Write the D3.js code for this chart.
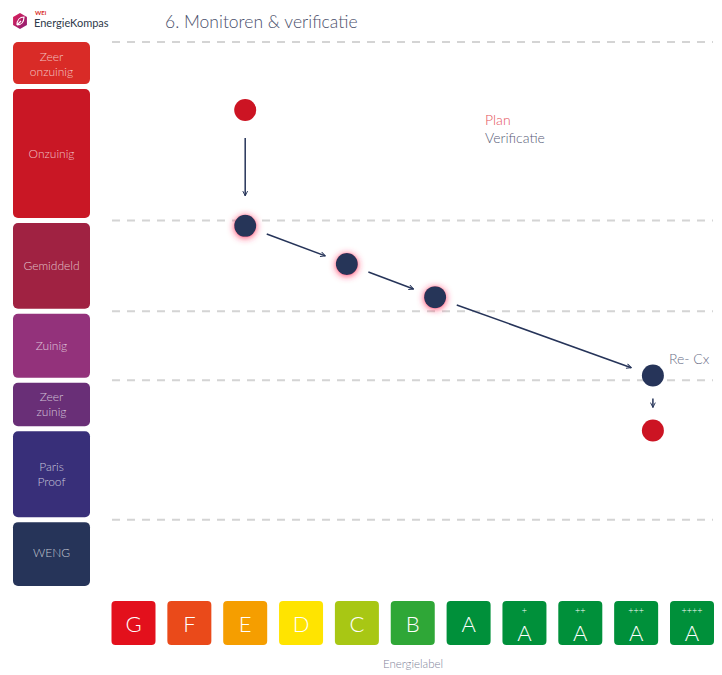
<!DOCTYPE html>
<html lang="nl">
<head>
    <meta charset="UTF-8">
    <title>6. Monitoren & verificatie</title>
    <script src="https://d3js.org/d3.v7.min.js"></script>
    <style>
        body { margin: 0; background: #fff; }
        text { font-family: Lato, "Open Sans", sans-serif; }
        .grid { stroke: #d4d4d4; stroke-width: 2px; stroke-dasharray: 8 7; }
        .band text { fill: rgba(255,255,255,0.72); font-size: 12px; font-weight: 300; }
        .label text { fill: #fff; font-weight: 300; }
        .arrow { stroke: #263459; stroke-width: 1.5px; fill: none; }
    </style>
</head>
<body>
    <script>
        // energy labels along the x axis (index 0..10)
        var labels = ["G", "F", "E", "D", "C", "B", "A", "A+", "A++", "A+++", "A++++"];
        var labelColors = ["#e3101c", "#ea4a1a", "#f59e00", "#ffe400", "#a8c714", "#2fa737",
                           "#00903a", "#00903a", "#00903a", "#00903a", "#00903a"];

        // performance bands on the y axis (energy index, 0 = best, 100 = worst)
        var bandNames = ["Zeer\nonzuinig", "Onzuinig", "Gemiddeld", "Zuinig", "Zeer\nzuinig", "Paris\nProof", "WENG"];
        var bandTop = [100, 91.8, 67.2, 50.5, 37.8, 28.9, 12.2];
        var bandBottom = [91.8, 67.2, 50.5, 37.8, 28.9, 12.2, 0];
        var bandColors = ["#d92b27", "#c91725", "#a02242", "#93327b", "#692f77", "#382f79", "#263459"];

        // dashed reference lines
        var gridValues = [100, 67.2, 50.5, 37.8, 12.2];

        // path of the building: label index, energy index, type
        var pointX = [2, 2, 3.82, 5.4, 9.3, 9.3];
        var pointY = [87.5, 66.2, 59.2, 53.1, 38.7, 28.6];
        var pointType = ["plan", "verificatie", "verificatie", "verificatie", "recx", "plan"];
        // arrows between consecutive points
        var arrowFrom = [0, 1, 2, 3, 4];
        var arrowTo = [1, 2, 3, 4, 5];

        var width = 722, height = 675;

        var svg = d3.select("body").append("svg")
            .attr("width", width)
            .attr("height", height);

        var defs = svg.append("defs");

        defs.append("filter")
            .attr("id", "glow")
            .attr("x", "-100%").attr("y", "-100%")
            .attr("width", "300%").attr("height", "300%")
            .append("feDropShadow")
            .attr("dx", 0).attr("dy", 1)
            .attr("stdDeviation", 3.5)
            .attr("flood-color", "#ff2a55")
            .attr("flood-opacity", 0.9);

        defs.append("marker")
            .attr("id", "head")
            .attr("viewBox", "0 0 10 10")
            .attr("refX", 9).attr("refY", 5)
            .attr("markerWidth", 6).attr("markerHeight", 6)
            .attr("markerUnits", "userSpaceOnUse")
            .attr("orient", "auto")
            .append("path")
            .attr("d", "M1,1L9,5L1,9")
            .attr("fill", "none")
            .attr("stroke", "#263459")
            .attr("stroke-width", 1.6);

        var lg = defs.append("linearGradient").attr("id", "logoGrad")
            .attr("x1", 0).attr("y1", 0).attr("x2", 1).attr("y2", 1);
        lg.append("stop").attr("offset", "0%").attr("stop-color", "#e0205a");
        lg.append("stop").attr("offset", "100%").attr("stop-color", "#8a1e74");

        // scales
        var x = d3.scaleLinear().domain([0, 10]).range([133.5, 692]);
        var y = d3.scaleLinear().domain([0, 100]).range([586, 42]);

        // logo
        var logo = svg.append("g").attr("transform", "translate(20,21)");
        var hex = d3.range(6).map(function(i) {
            var a = Math.PI / 3 * i + Math.PI / 6;
            return [8 * Math.cos(a), 8 * Math.sin(a)];
        });
        logo.append("path")
            .attr("d", "M" + hex.join("L") + "Z")
            .attr("fill", "url(#logoGrad)");
        logo.append("path")
            .attr("d", "M-3,4 C-3,-1 0,-4 4,-4 C4,1 1,4 -3,4 M-3,4 L1,0")
            .attr("fill", "none").attr("stroke", "#fff").attr("stroke-width", 1.2);
        svg.append("text").attr("x", 35).attr("y", 15)
            .attr("font-size", 6).attr("font-weight", "bold").attr("fill", "#d92b27").text("WEi");
        svg.append("text").attr("x", 34).attr("y", 27)
            .attr("font-size", 11).attr("fill", "#2e3a4a").text("EnergieKompas");

        // title
        svg.append("text")
            .attr("x", 165).attr("y", 28)
            .attr("font-size", 17.5).attr("font-weight", 300)
            .attr("fill", "#4a4f6b")
            .text("6. Monitoren & verificatie");

        // grid lines
        svg.selectAll(".grid")
            .data(gridValues)
            .enter().append("line")
            .attr("class", "grid")
            .attr("x1", 112).attr("x2", 713)
            .attr("y1", function(d) { return y(d); })
            .attr("y2", function(d) { return y(d); });

        // bands
        var band = svg.selectAll(".band")
            .data(bandNames)
            .enter().append("g")
            .attr("class", "band");

        band.append("rect")
            .attr("x", 13).attr("width", 77)
            .attr("y", function(d, i) { return y(bandTop[i]) + (i === 0 ? 0 : 2.5); })
            .attr("height", function(d, i) {
                var top = y(bandTop[i]) + (i === 0 ? 0 : 2.5);
                var bot = y(bandBottom[i]) - (i === bandNames.length - 1 ? 0 : 2.5);
                return bot - top;
            })
            .attr("rx", 5)
            .attr("fill", function(d, i) { return bandColors[i]; });

        band.each(function(d, i) {
            var lines = d.split("\n");
            var cy = (y(bandTop[i]) + y(bandBottom[i])) / 2;
            var t = d3.select(this).append("text")
                .attr("text-anchor", "middle")
                .attr("x", 51.5)
                .attr("y", cy - (lines.length - 1) * 7.5 + 4);
            lines.forEach(function(l, j) {
                t.append("tspan").attr("x", 51.5).attr("dy", j === 0 ? 0 : 15).text(l);
            });
        });

        // energy labels
        var label = svg.selectAll(".label")
            .data(labels)
            .enter().append("g")
            .attr("class", "label")
            .attr("transform", function(d, i) { return "translate(" + x(i) + ",0)"; });

        label.append("rect")
            .attr("x", -22).attr("width", 44)
            .attr("y", 601).attr("height", 44)
            .attr("rx", 4)
            .attr("fill", function(d, i) { return labelColors[i]; });

        label.append("text")
            .attr("text-anchor", "middle")
            .attr("y", function(d) { return d.length > 1 ? 641 : 632; })
            .attr("font-size", 22)
            .text(function(d) { return d.charAt(0); });

        label.filter(function(d) { return d.length > 1; })
            .append("text")
            .attr("text-anchor", "middle")
            .attr("y", 614)
            .attr("font-size", 9)
            .text(function(d) { return d.slice(1); });

        svg.append("text")
            .attr("x", 413).attr("y", 668)
            .attr("text-anchor", "middle")
            .attr("font-size", 11.5).attr("font-weight", 300)
            .attr("fill", "#80849a")
            .text("Energielabel");

        // arrows
        var gap = 23;
        svg.selectAll(".arrow")
            .data(arrowFrom)
            .enter().append("line")
            .attr("class", "arrow")
            .attr("marker-end", "url(#head)")
            .each(function(d, i) {
                var x0 = x(pointX[d]), y0 = y(pointY[d]);
                var x1 = x(pointX[arrowTo[i]]), y1 = y(pointY[arrowTo[i]]);
                var len = Math.sqrt((x1 - x0) * (x1 - x0) + (y1 - y0) * (y1 - y0));
                var g0 = i === 0 ? 28 : gap, g1 = i === 0 ? 30 : gap;
                var ux = (x1 - x0) / len, uy = (y1 - y0) / len;
                d3.select(this)
                    .attr("x1", x0 + ux * g0).attr("y1", y0 + uy * g0)
                    .attr("x2", x1 - ux * g1).attr("y2", y1 - uy * g1);
            });

        // points
        svg.selectAll(".pt")
            .data(pointX)
            .enter().append("circle")
            .attr("class", "pt")
            .attr("cx", function(d) { return x(d); })
            .attr("cy", function(d, i) { return y(pointY[i]); })
            .attr("r", 11)
            .attr("fill", function(d, i) { return pointType[i] === "plan" ? "#cc1423" : "#263459"; })
            .attr("filter", function(d, i) { return pointType[i] === "verificatie" ? "url(#glow)" : null; });

        // legend
        svg.append("text").attr("x", 485).attr("y", 125)
            .attr("font-size", 14).attr("font-weight", 300).attr("fill", "#e5535c").text("Plan");
        svg.append("text").attr("x", 485).attr("y", 143)
            .attr("font-size", 14).attr("font-weight", 300).attr("fill", "#585d78").text("Verificatie");

        svg.append("text")
            .attr("x", x(pointX[4]) + 16).attr("y", y(pointY[4]) - 11)
            .attr("font-size", 14).attr("font-weight", 300).attr("fill", "#6b6f88")
            .text("Re- Cx");
    </script>
</body>
</html>
